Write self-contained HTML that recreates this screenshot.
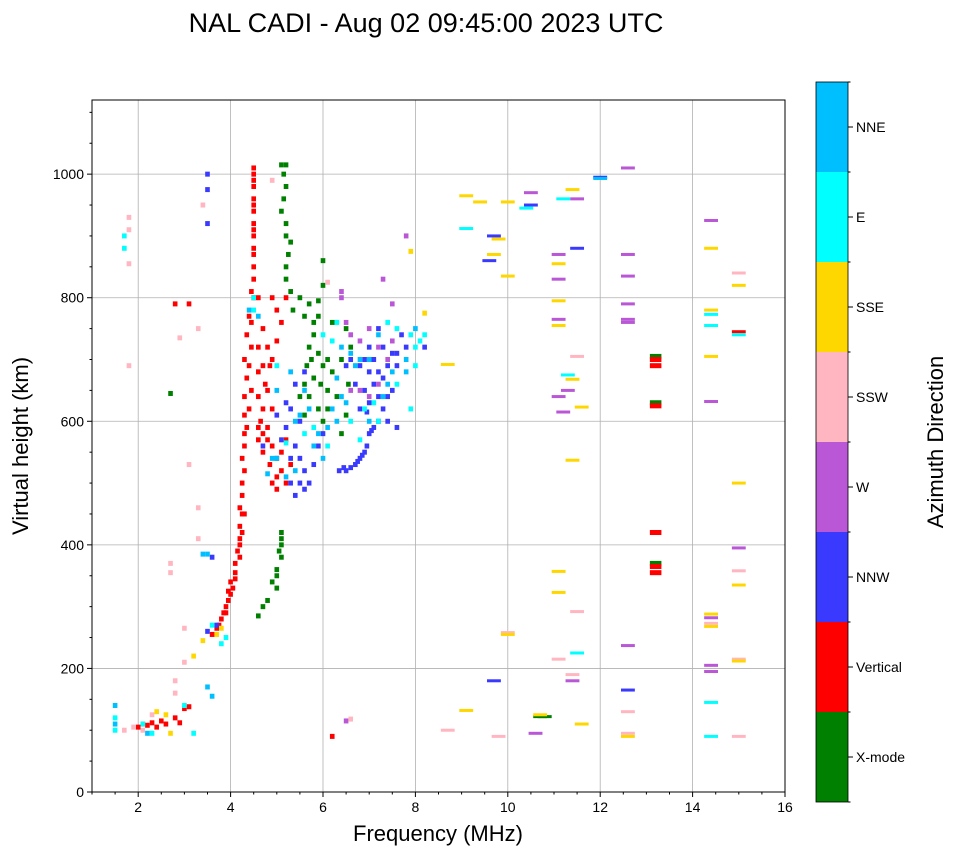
<!DOCTYPE html>
<html><head><meta charset="utf-8">
<style>
html,body{margin:0;padding:0;background:#fff;}
svg{display:block;font-family:"Liberation Sans","DejaVu Sans",sans-serif;}
</style></head>
<body>
<svg id="chart" width="958" height="857" viewBox="0 0 958 857">
<text x="426" y="32" text-anchor="middle" font-size="27">NAL CADI - Aug 02 09:45:00 2023 UTC</text>
<g id="plot"></g>
<g id="cbar"></g>
</svg>
<script>
const categories = ["X-mode","Vertical","NNW","W","SSW","SSE","E","NNE"];
const catColors = ["#008000","#ff0000","#3a3aff","#b957d6","#ffb6c1","#ffd700","#00ffff","#00bfff"];
const xTicks = [2,4,6,8,10,12,14,16];
const yTicks = [0,200,400,600,800,1000];
const xMode = [[5.1,1015],[5.2,1015],[5.15,1000],[5.2,980],[5.1,940],[5.2,900],[5.3,890],[5.2,850],[5.2,830],[5.3,810],[5.5,800],[5.7,790],[5.9,795],[6.0,820],[5.9,770],[5.8,740],[5.7,720],[5.9,710],[6.0,690],[5.8,670],[5.6,660],[5.5,640],[5.7,640],[5.9,620],[6.1,650],[6.3,640],[6.5,610],[6.4,580],[6.6,720],[6.5,750],[6.2,760],[5.1,420],[5.1,400],[5.1,380],[5.0,360],[4.9,340],[5.0,330],[4.7,300],[4.6,285],[4.8,310],[6.0,860],[2.7,645],[10.7,122],[10.8,122],[13.2,705],[13.2,630],[13.2,370],[6.1,700],[6.0,600],[5.15,960],[5.2,920],[5.25,870],[5.35,780],[5.6,770],[5.8,760],[5.75,700],[5.65,690],[5.95,660],[6.2,680],[6.4,700],[6.55,660],[6.1,620],[5.6,610],[5.0,350],[5.05,390],[5.1,410]];
const vertical = [[2.0,105],[2.1,110],[2.2,108],[2.3,112],[2.4,105],[2.5,115],[2.6,110],[2.8,120],[2.9,112],[3.0,135],[3.1,138],[3.6,255],[3.7,265],[3.8,280],[3.9,300],[4.0,320],[4.1,345],[4.2,380],[4.25,420],[4.25,450],[4.25,480],[4.3,520],[4.3,560],[4.35,590],[4.4,620],[4.45,650],[4.4,690],[4.45,720],[4.45,760],[4.5,800],[4.5,830],[4.5,870],[4.5,910],[4.5,950],[4.5,990],[4.5,1010],[4.6,590],[4.7,580],[4.8,570],[4.9,560],[5.0,540],[5.1,520],[4.7,620],[4.8,650],[4.9,700],[5.0,730],[5.1,760],[4.9,500],[5.0,490],[5.2,500],[5.3,530],[4.6,680],[4.7,690],[4.8,720],[5.0,780],[5.2,800],[3.1,790],[2.8,790],[6.2,90],[4.3,450],[4.2,400],[3.9,290],[3.95,310],[4.05,330],[13.2,700],[13.2,690],[13.2,625],[13.2,420],[13.2,365],[13.2,355],[15.0,745],[4.5,1000],[4.5,980],[4.5,960],[4.5,940],[4.5,920],[4.5,900],[4.5,880],[4.5,850],[4.45,810],[4.4,770],[4.35,740],[4.3,700],[4.35,670],[4.3,640],[4.3,610],[4.3,580],[4.25,540],[4.25,500],[4.2,460],[4.2,430],[4.2,410],[4.15,390],[4.1,370],[4.1,355],[4.0,340],[3.95,325],[3.85,290],[3.75,270],[4.6,570],[4.65,600],[4.7,550],[4.8,590],[4.9,620],[4.85,530],[5.0,510],[4.75,660],[4.85,690],[4.6,720],[4.7,750],[4.6,640],[5.1,550],[5.2,570],[4.9,800],[4.6,800]];
const nnw = [[6.5,520],[6.6,525],[6.7,530],[6.8,540],[6.9,550],[7.0,580],[7.1,590],[7.2,600],[7.3,620],[7.4,640],[7.5,650],[7.3,670],[7.0,680],[6.8,690],[6.6,700],[6.5,690],[6.7,660],[6.9,650],[7.1,700],[7.3,720],[7.5,710],[7.6,690],[7.8,720],[7.7,740],[5.0,610],[5.2,590],[5.4,560],[5.5,540],[5.6,520],[5.7,500],[5.4,480],[5.3,500],[5.8,530],[5.9,560],[6.0,580],[5.2,630],[5.4,660],[5.6,680],[4.7,560],[6.8,620],[7.0,630],[3.6,380],[3.7,270],[3.5,260],[12.6,165],[9.7,180],[8.2,720],[7.6,590],[7.4,600],[3.5,975],[3.5,1000],[3.5,920],[11.5,880],[9.6,860],[9.7,900],[10.5,950],[12.0,995],[6.35,520],[6.45,525],[6.75,535],[6.85,545],[6.95,560],[7.05,585],[6.9,700],[7.2,680],[7.4,690],[7.1,660],[7.2,640],[6.95,615],[5.3,540],[5.5,500],[5.6,490],[5.5,600],[5.1,570],[5.3,620],[7.6,710],[7.0,720],[7.2,750]];
const west = [[6.4,810],[6.4,800],[6.5,760],[6.6,740],[6.8,730],[7.0,750],[7.2,720],[7.4,700],[7.5,730],[7.2,660],[7.0,640],[6.8,650],[6.6,650],[7.3,830],[7.8,900],[7.5,790],[12.6,1010],[12.6,870],[12.6,835],[12.6,790],[12.6,760],[12.6,765],[14.4,925],[14.4,632],[14.4,282],[14.4,205],[14.4,195],[15.0,395],[11.1,870],[11.1,830],[11.1,765],[11.1,640],[11.2,615],[11.5,960],[11.3,650],[12.6,237],[10.5,970],[10.6,95],[11.4,180],[6.5,115]];
const ssw = [[1.8,930],[1.8,910],[1.8,855],[1.8,690],[3.3,750],[2.9,735],[3.4,950],[3.1,530],[3.3,460],[3.3,410],[2.7,370],[2.7,355],[3.0,265],[3.0,210],[2.8,180],[2.8,160],[2.3,125],[2.1,100],[1.9,105],[1.7,100],[12.6,130],[12.6,95],[15.0,840],[15.0,358],[15.0,215],[15.0,90],[11.5,705],[11.1,215],[11.5,292],[11.4,190],[14.4,273],[8.7,100],[9.8,90],[6.6,118],[10.0,258],[4.9,990],[6.1,825]];
const sse = [[9.1,965],[9.4,955],[9.8,895],[10.0,955],[10.0,835],[11.1,855],[11.1,795],[11.1,755],[11.4,975],[11.4,668],[11.6,623],[11.4,537],[11.1,357],[11.1,323],[11.6,110],[12.6,90],[14.4,880],[14.4,780],[14.4,705],[14.4,288],[14.4,268],[15.0,820],[15.0,500],[15.0,335],[15.0,212],[9.1,132],[8.7,692],[8.2,775],[7.9,875],[10.7,125],[2.4,130],[2.7,95],[3.2,220],[3.4,245],[3.7,255],[3.8,265],[10.0,255],[9.7,870],[2.6,125]];
const east = [[1.5,120],[1.5,100],[1.7,880],[1.7,900],[2.3,95],[2.1,110],[3.2,95],[3.0,140],[3.6,270],[3.9,250],[3.8,240],[6.3,760],[6.6,600],[6.8,570],[7.2,600],[7.6,660],[7.9,740],[8.0,720],[8.2,740],[7.9,620],[5.6,580],[5.8,590],[6.1,560],[9.1,912],[10.4,945],[11.2,960],[11.3,675],[11.5,225],[14.4,773],[14.4,755],[14.4,145],[14.4,90],[15.0,740],[5.2,565],[5.0,690],[4.5,800],[4.5,780],[8.0,690],[7.4,760],[6.0,740],[6.2,730],[6.9,620],[7.1,630],[7.6,750],[8.1,730]];
const nne = [[1.5,140],[1.5,110],[2.2,95],[3.4,385],[3.5,385],[3.5,170],[3.6,155],[4.4,780],[4.6,770],[5.0,650],[5.3,680],[5.5,610],[5.7,620],[5.9,580],[6.2,620],[6.4,640],[6.6,710],[6.8,700],[6.5,630],[7.0,600],[7.3,640],[7.5,680],[7.8,700],[8.0,750],[7.2,740],[4.8,515],[5.2,510],[5.4,600],[5.6,650],[6.0,540],[5.0,540],[6.3,670],[7.0,700],[12.0,993],[6.4,720],[6.7,690],[6.3,600],[6.1,590],[5.8,560],[5.4,520],[4.9,540],[7.8,680],[7.4,660]];
const seriesByCat = [xMode, vertical, nnw, west, ssw, sse, east, nne];

const NS="http://www.w3.org/2000/svg";
const L=92,R=785,T=100,B=792;
const X=f=>L+(f-1)/15*(R-L);
const Y=h=>B-h/1120*(B-T);
function mk(tag,attrs,parent){const e=document.createElementNS(NS,tag);for(const k in attrs)e.setAttribute(k,attrs[k]);parent.appendChild(e);return e;}
const plot=document.getElementById('plot');
xTicks.forEach(v=>{const l=mk('line',{x1:X(v),x2:X(v),y1:T,y2:B,stroke:'#b0b0b0','stroke-width':0.8},plot);

});
yTicks.forEach(v=>{const l=mk('line',{x1:L,x2:R,y1:Y(v),y2:Y(v),stroke:'#b0b0b0','stroke-width':0.8},plot);

});
seriesByCat.forEach((arr,ci)=>{arr.forEach(p=>{
  const f=p[0],h=p[1];let w,hh;
  if(f>8.5){w=(f>13&&f<13.4)?0.25:0.3;hh=f>13&&f<13.4?5:3;}else{w=0.1;hh=5;}
  const r=mk('rect',{x:X(f-w/2),y:Y(h)-hh/2,width:X(1+w)-X(1),height:hh,fill:catColors[ci]},plot);
  
  
});});
const fr=mk('rect',{x:L,y:T,width:R-L,height:B-T,fill:'none',stroke:'#000','stroke-width':1},plot);


for(let v=1;v<=16;v+=0.5){const major=xTicks.includes(v);mk('line',{x1:X(v),x2:X(v),y1:B,y2:B+(major?5:2.5),stroke:'#000'},plot);}
xTicks.forEach(v=>{const t=mk('text',{x:X(v),y:B+20,'text-anchor':'middle','font-size':14},plot);t.textContent=v;

});
for(let v=0;v<=1100;v+=50){const major=yTicks.includes(v);mk('line',{x1:L,x2:L-(major?5:2.5),y1:Y(v),y2:Y(v),stroke:'#000'},plot);}
yTicks.forEach(v=>{const t=mk('text',{x:L-8,y:Y(v)+5,'text-anchor':'end','font-size':14},plot);t.textContent=v;

});
const xl=mk('text',{x:438,y:841,'text-anchor':'middle','font-size':22},plot);xl.textContent='Frequency (MHz)';


const yl=mk('text',{x:28,y:446,'text-anchor':'middle','font-size':22,transform:'rotate(-90 28 446)'},plot);yl.textContent='Virtual height (km)';


const cb=document.getElementById('cbar');
const cT=82,cB=802,cL=816,cW=32,seg=(cB-cT)/categories.length;
categories.forEach((c,i)=>{const y0=cB-(i+1)*seg;
  const r=mk('rect',{x:cL,y:y0,width:cW,height:seg,fill:catColors[i]},cb);
  
  
  mk('line',{x1:cL+cW,x2:cL+cW+5,y1:y0+seg/2,y2:y0+seg/2,stroke:'#000'},cb);
  const t=mk('text',{x:cL+cW+8,y:y0+seg/2+5,'font-size':14},cb);t.textContent=c;
  
  
});
for(let i=0;i<=categories.length;i++){mk('line',{x1:cL+cW,x2:cL+cW+2.5,y1:cT+i*seg,y2:cT+i*seg,stroke:'#000'},cb);}
mk('rect',{x:cL,y:cT,width:cW,height:cB-cT,fill:'none',stroke:'#000','stroke-width':0.8},cb);
const ct=mk('text',{x:943,y:442,'text-anchor':'middle','font-size':22,transform:'rotate(-90 943 442)'},cb);ct.textContent='Azimuth Direction';


</script>
</body></html>
